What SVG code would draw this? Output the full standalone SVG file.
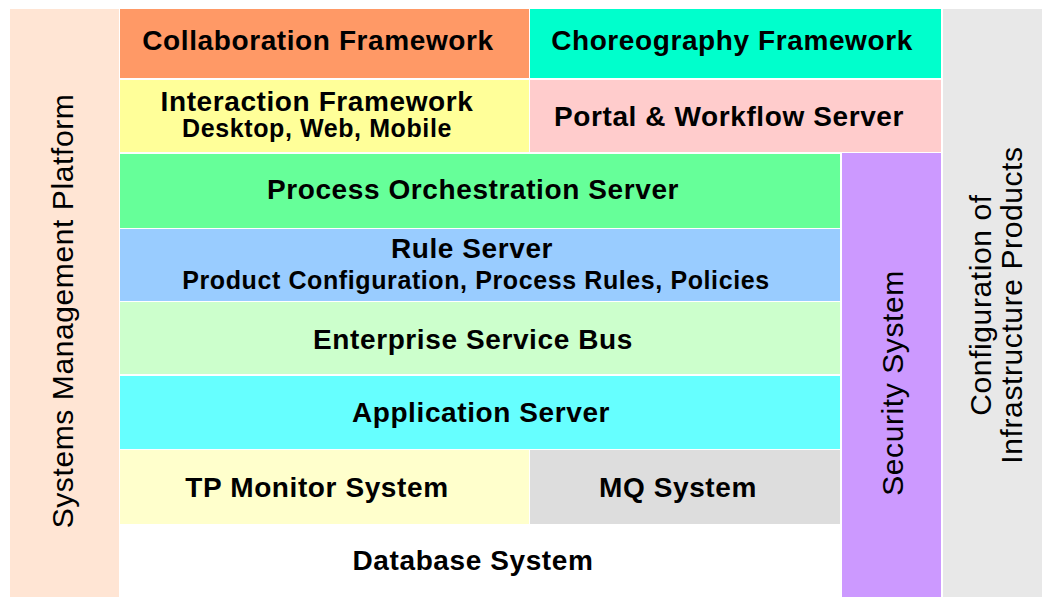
<svg xmlns="http://www.w3.org/2000/svg" width="1042" height="597" viewBox="0 0 1042 597">
  <style>
    .lbl { font-family: "Liberation Sans", Arial, sans-serif; font-weight: bold; font-size: 28px; letter-spacing: 0.6px; fill: #000; text-anchor: middle; }
    .sub { font-size: 25px; }
    .vert { font-family: "Liberation Sans", Arial, sans-serif; font-size: 30px; letter-spacing: 0.6px; fill: #000; text-anchor: middle; }
  </style>
  <rect width="1042" height="597" fill="#ffffff"/>

  <!-- side pillars -->
  <g id="systems-management">
    <rect x="10" y="9" width="109" height="588" fill="#FFE5D4"/>
    <text class="vert" transform="translate(73,311) rotate(-90)">Systems Management Platform</text>
  </g>
  <g id="infrastructure-config">
    <rect x="943" y="9" width="99" height="588" fill="#E8E8E8"/>
    <text class="vert" transform="translate(991,305) rotate(-90)">Configuration of</text>
    <text class="vert" transform="translate(1022,305) rotate(-90)">Infrastructure Products</text>
  </g>
  <g id="security-system">
    <rect x="842" y="153" width="99" height="444" fill="#CC99FF"/>
    <text class="vert" transform="translate(903,383) rotate(-90)">Security System</text>
  </g>

  <!-- top tier -->
  <g id="collaboration-framework">
    <rect x="120" y="9" width="409" height="69" fill="#FF9966"/>
    <text class="lbl" x="318" y="50">Collaboration Framework</text>
  </g>
  <g id="choreography-framework">
    <rect x="530" y="9" width="411" height="69" fill="#00FFCC"/>
    <text class="lbl" x="732" y="50">Choreography Framework</text>
  </g>
  <g id="interaction-framework">
    <rect x="120" y="80" width="409" height="72" fill="#FFFF99"/>
    <text class="lbl" x="317" y="111">Interaction Framework</text>
    <text class="lbl sub" x="317" y="137">Desktop, Web, Mobile</text>
  </g>
  <g id="portal-workflow">
    <rect x="530" y="80" width="411" height="72" fill="#FFCCCC"/>
    <text class="lbl" x="729" y="126">Portal &amp; Workflow Server</text>
  </g>

  <!-- middleware stack -->
  <g id="process-orchestration">
    <rect x="120" y="154" width="720" height="74" fill="#66FF99"/>
    <text class="lbl" x="473" y="199">Process Orchestration Server</text>
  </g>
  <g id="rule-server">
    <rect x="120" y="229" width="720" height="72" fill="#99CCFF"/>
    <text class="lbl" x="472" y="258">Rule Server</text>
    <text class="lbl sub" x="476" y="289">Product Configuration, Process Rules, Policies</text>
  </g>
  <g id="enterprise-service-bus">
    <rect x="120" y="302" width="720" height="72" fill="#CCFFCC"/>
    <text class="lbl" x="473" y="349">Enterprise Service Bus</text>
  </g>
  <g id="application-server">
    <rect x="120" y="376" width="720" height="73" fill="#66FFFF"/>
    <text class="lbl" x="481" y="422">Application Server</text>
  </g>
  <g id="tp-monitor">
    <rect x="120" y="450" width="409" height="74" fill="#FFFFCC"/>
    <text class="lbl" x="317" y="497">TP Monitor System</text>
  </g>
  <g id="mq-system">
    <rect x="530" y="450" width="310" height="74" fill="#DDDDDD"/>
    <text class="lbl" x="678" y="497">MQ System</text>
  </g>
  <g id="database-system">
    <rect x="120" y="525" width="720" height="72" fill="#FFFFFF"/>
    <text class="lbl" x="473" y="570">Database System</text>
  </g>
</svg>
